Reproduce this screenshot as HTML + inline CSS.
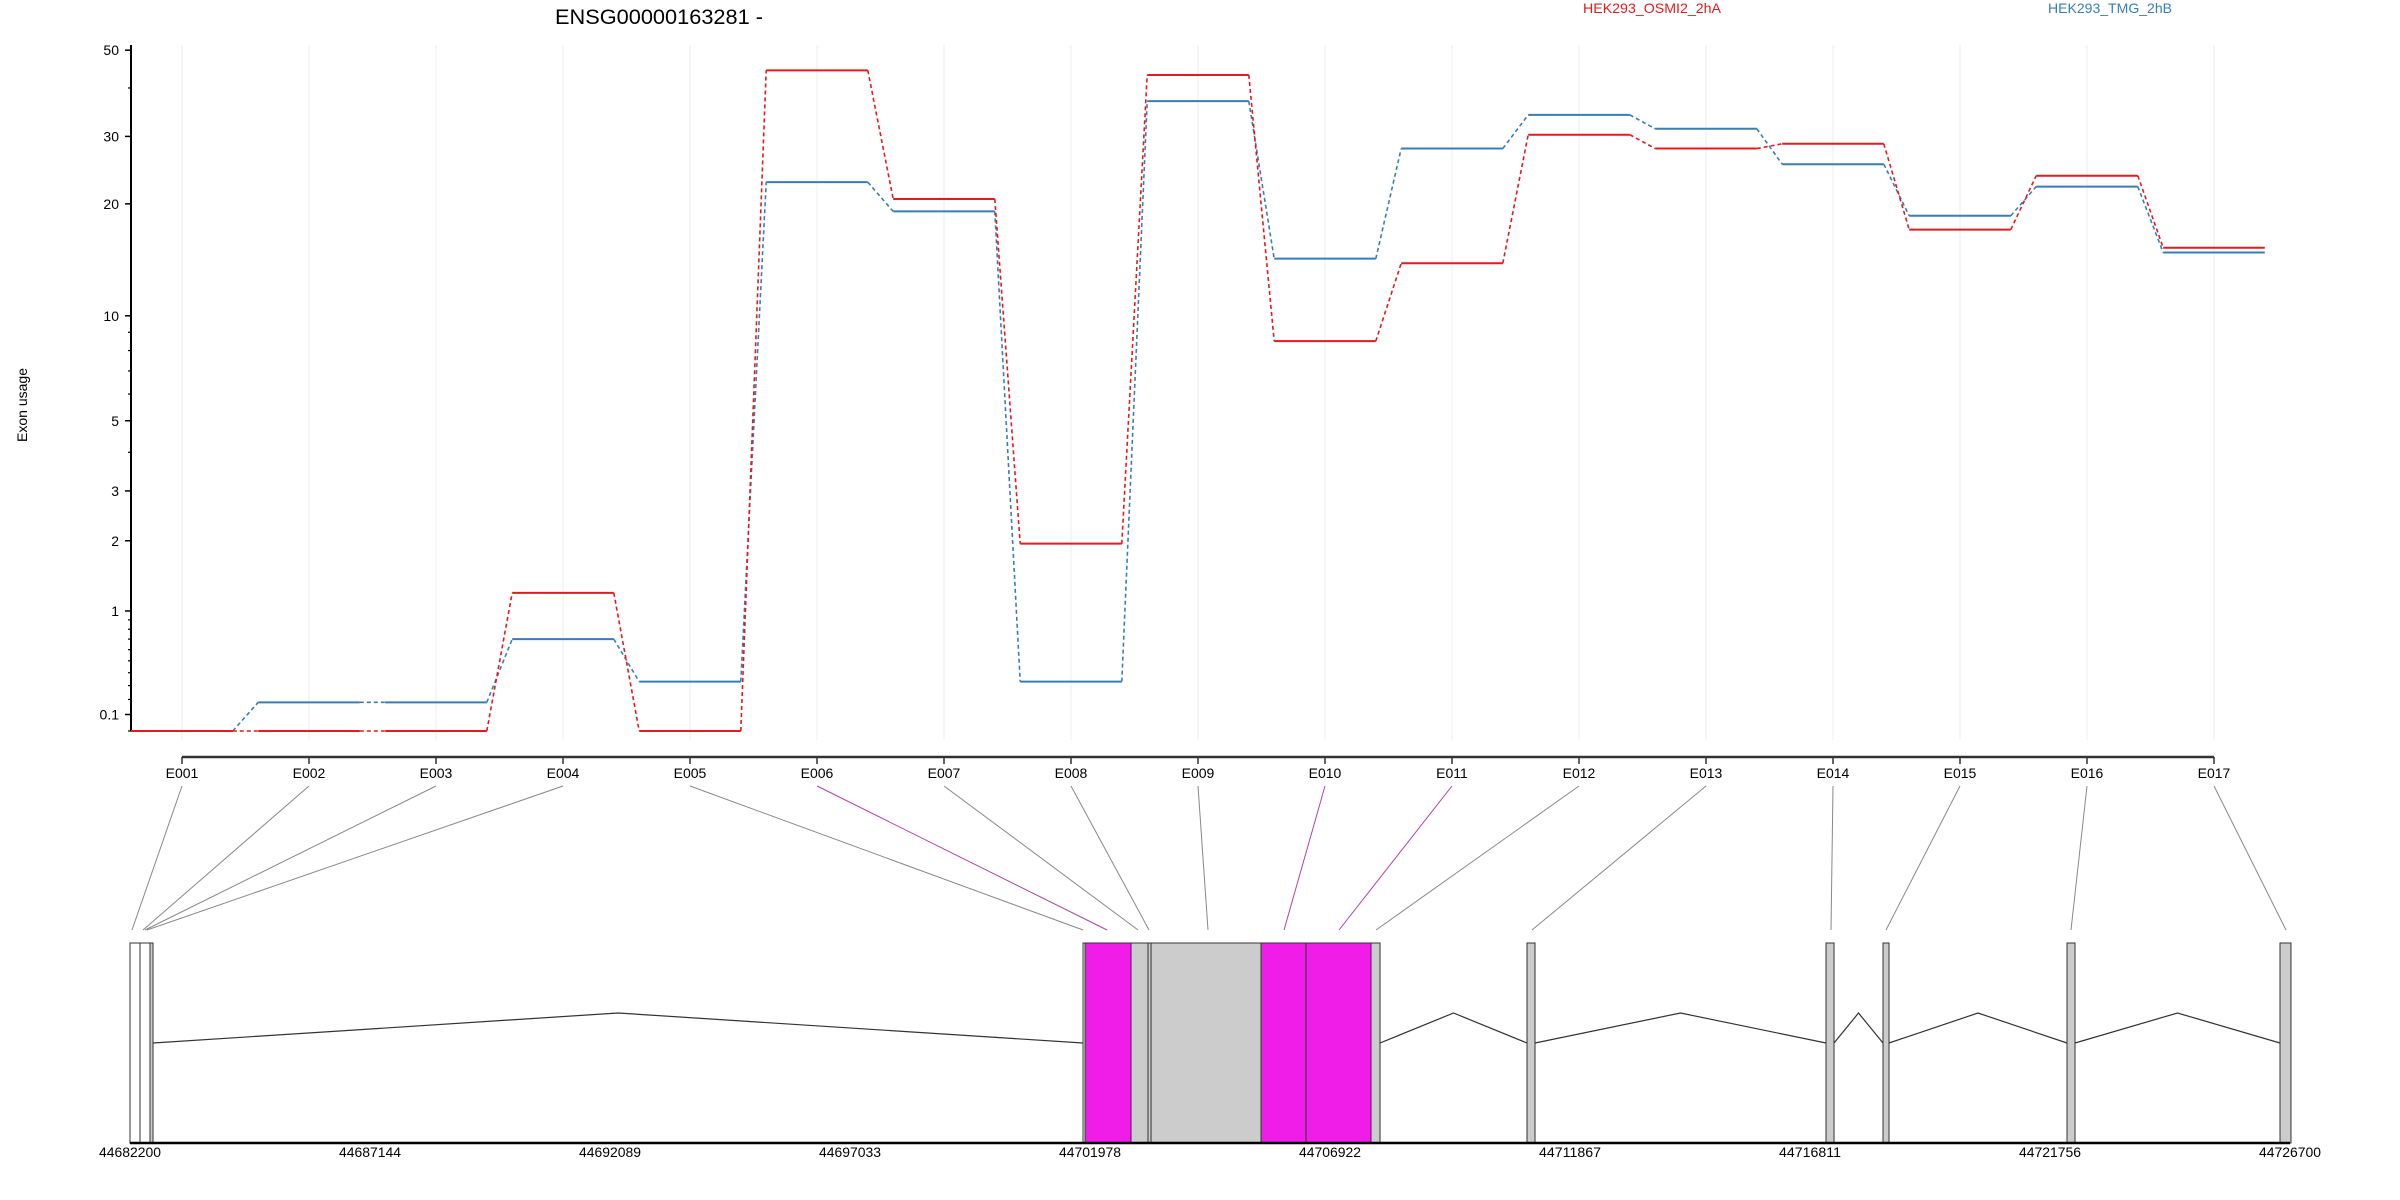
<!DOCTYPE html>
<html><head><meta charset="utf-8"><style>
html,body{margin:0;padding:0;background:#fff;}
svg{display:block;font-family:"Liberation Sans",sans-serif;}
</style></head><body>
<svg id="chart" width="2400" height="1200" viewBox="0 0 2400 1200" xmlns="http://www.w3.org/2000/svg">
<text x="555" y="24" font-size="21" textLength="208" lengthAdjust="spacingAndGlyphs">ENSG00000163281 -</text>
<text x="1583" y="13" font-size="14" fill="#E41A1C" textLength="138" lengthAdjust="spacingAndGlyphs">HEK293_OSMI2_2hA</text>
<text x="2048" y="13" font-size="14" fill="#377EB8" textLength="124" lengthAdjust="spacingAndGlyphs">HEK293_TMG_2hB</text>
<text transform="translate(27,405) rotate(-90)" text-anchor="middle" font-size="14">Exon usage</text>
<g id="grid"></g><g id="yaxis"></g><g id="xaxis"></g><g id="series"></g><g id="links"></g><g id="model"></g><g id="gaxis"></g>
</svg>
<script>
const exons = ["E001","E002","E003","E004","E005","E006","E007","E008","E009","E010","E011","E012","E013","E014","E015","E016","E017"];
const osmiValues = [0,0,0,1.22,0,44.4,20.6,1.95,43.2,8.5,13.9,30.3,27.9,28.7,17.1,23.7,15.3];
const tmgValues = [0,0.18,0.18,0.70,0.33,22.8,19.1,0.33,37,14.3,27.9,34.1,31.4,25.4,18.6,22.2,14.85];
const yTickLabels = ["0.1","1","2","3","5","10","20","30","50"];
const yTickValues = [0.1,1,2,3,5,10,20,30,50];
const yMinorValues = [0,0.2,0.3,0.4,0.5,0.6,0.7,0.8,0.9,4,6,7,8,9,40];
const genomicTicks = ["44682200","44687144","44692089","44697033","44701978","44706922","44711867","44716811","44721756","44726700"];
const exonStarts = [44682200,44682406,44682612,44701834,44701875,44702823,44703173,44703235,44705501,44706428,44707767,44710981,44717141,44718315,44722106,44726494];
const exonEnds   = [44682406,44682612,44682674,44701875,44702823,44703173,44703235,44705501,44706428,44707767,44707953,44711146,44717306,44718439,44722271,44726720];
const exonTypes  = ["w","w","g","w","m","g","g","g","m","m","g","g","g","g","g","g"];
const exonLinkTargets = [44682241,44682468,44682509,44682550,44701834,44702329,44702968,44703194,44704409,44705975,44707108,44707870,44711084,44717244,44718377,44722188,44726618];
const exonSig = [0,0,0,0,0,1,0,0,0,1,1,0,0,0,0,0,0];

const NS="http://www.w3.org/2000/svg";
function mk(parent,tag,attrs){const e=document.createElementNS(NS,tag);for(const k in attrs)e.setAttribute(k,attrs[k]);document.getElementById(parent).appendChild(e);return e;}
const X0=182, DX=127;
const xE=i=>X0+i*DX;
const yV=v=>731-398.7*Math.log10(v+1);
const G0=44682200,G1=44726700,GX0=130,GX1=2290;
const xG=g=>GX0+(g-G0)/(G1-G0)*(GX1-GX0);
const RED="#E41A1C",BLUE="#377EB8",MAG="#F01DE8";

exons.forEach((e,i)=>{const l=mk("grid","line",{x1:xE(i),x2:xE(i),y1:45,y2:740,stroke:"#ebebf5","stroke-width":1});

});

{const l=mk("yaxis","line",{x1:131,x2:131,y1:45,y2:731,stroke:"#000","stroke-width":2});

}
yTickValues.forEach((v,i)=>{const y=yV(v);
const t=mk("yaxis","line",{x1:125,x2:131,y1:y,y2:y,stroke:"#000","stroke-width":1.5});


const tx=mk("yaxis","text",{x:119,y:y+5,"text-anchor":"end","font-size":14});
tx.textContent=yTickLabels[i];

});
yMinorValues.forEach(v=>{const y=yV(v);const t=mk("yaxis","line",{x1:128,x2:131,y1:y,y2:y,stroke:"#000","stroke-width":1.2});

});

{const l=mk("xaxis","line",{x1:X0,x2:xE(16),y1:757,y2:757,stroke:"#333","stroke-width":2.5});

}
exons.forEach((e,i)=>{const t=mk("xaxis","line",{x1:xE(i),x2:xE(i),y1:757,y2:764,stroke:"#333","stroke-width":1.5});


const tx=mk("xaxis","text",{x:xE(i),y:778,"text-anchor":"middle","font-size":14});
tx.textContent=e;

});

function drawSeries(vals,color,name){
 vals.forEach((v,i)=>{const xa=i===0?131:xE(i)-0.4*DX, xb=xE(i)+0.4*DX;
  const s=mk("series","line",{x1:xa,x2:xb,y1:yV(v),y2:yV(v),stroke:color,"stroke-width":2});
  
  
  if(i<vals.length-1){const c=mk("series","line",{x1:xb,x2:xE(i+1)-0.4*DX,y1:yV(v),y2:yV(vals[i+1]),stroke:color,"stroke-width":1.6,"stroke-dasharray":"4,3"});
   
   }
 });}
drawSeries(tmgValues,BLUE,"tmg");
drawSeries(osmiValues,RED,"osmi2");

exons.forEach((e,i)=>{const l=mk("links","line",{x1:xE(i),y1:786,x2:xG(exonLinkTargets[i]),y2:930,stroke:exonSig[i]?"#B040B0":"#888","stroke-width":1});

});

for(let i=0;i<exonStarts.length-1;i++){
 const a=xG(exonEnds[i]), b=xG(exonStarts[i+1]);
 if(b-a>20){const p=mk("model","polyline",{points:`${a},1043 ${(a+b)/2},1013 ${b},1043`,fill:"none",stroke:"#333","stroke-width":1.2});
  
  }
}
exonStarts.forEach((s,i)=>{const a=xG(s),b=xG(exonEnds[i]);
 const fill=exonTypes[i]==="m"?MAG:exonTypes[i]==="g"?"#CCCCCC":"#FFFFFF";
 const r=mk("model","rect",{x:a,y:943,width:Math.max(b-a,2),height:200,fill:fill,stroke:"#333","stroke-width":1});
 
 });

{const l=mk("gaxis","line",{x1:GX0,x2:GX1,y1:1143,y2:1143,stroke:"#000","stroke-width":2.5});

}
genomicTicks.forEach(t=>{const tx=mk("gaxis","text",{x:xG(+t),y:1157,"text-anchor":"middle","font-size":14,textLength:62,lengthAdjust:"spacingAndGlyphs"});
tx.textContent=t;

});
</script>
</body></html>
